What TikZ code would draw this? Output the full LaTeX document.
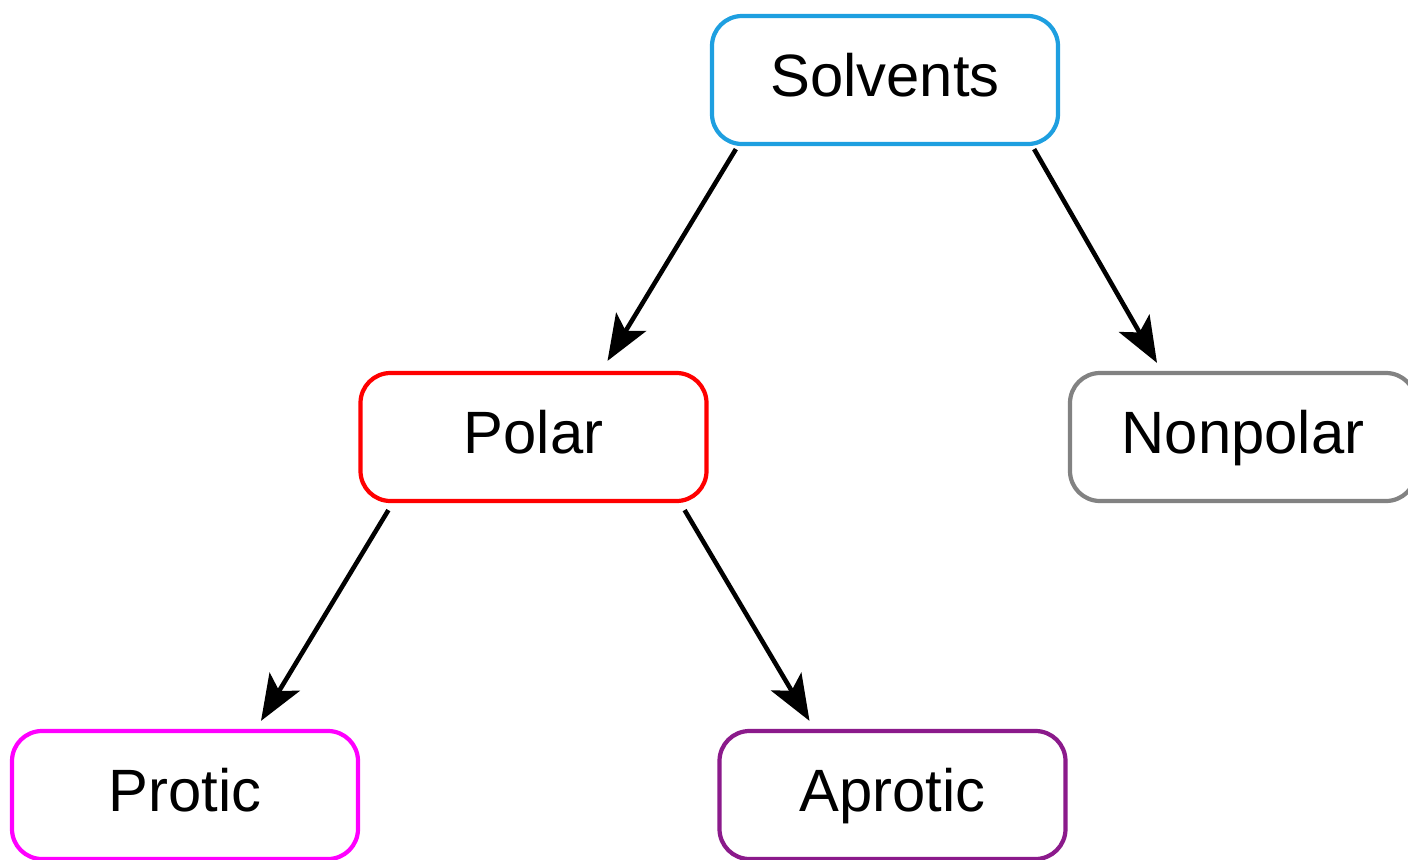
\documentclass[tikz,border=0pt]{standalone}
\usepackage{fontspec}
\setmainfont{Liberation Sans}
\usetikzlibrary{arrows.meta}
\definecolor{solvblue}{HTML}{1E9FE0}
\definecolor{polred}{HTML}{FF0000}
\definecolor{nongray}{HTML}{828282}
\definecolor{promag}{HTML}{FF00FF}
\definecolor{apropurple}{HTML}{8B1A8B}

\begin{document}
\begin{tikzpicture}[
    box/.style={draw=#1, fill=white, line width=1.2pt, rounded corners=0.3cm,
        minimum width=3.46cm, minimum height=1.28cm, inner sep=0pt,
        text height=13pt, text depth=3.4pt,
        font=\fontsize{17}{20}\selectfont},
    arr/.style={black, line width=1.3pt,
        -{Stealth[length=13pt, width=10pt, inset=3pt]}},
]
\useasboundingbox (0,0) rectangle (14.08,8.59);

% Boxes
\node[box=solvblue] (solv) at (8.85,7.79) {Solvents};
\node[box=polred] (polar) at (5.335,4.22) {Polar};
\node[box=nongray] (nonpol) at (12.43,4.22) {Nonpolar};
\node[box=promag] (protic) at (1.85,0.64) {Protic};
\node[box=apropurple] (aprotic) at (8.925,0.64) {Aprotic};

% Arrows
\draw[arr] ([shift={(0.26,-0.03)}]solv.south west)
    -- ([shift={(0.74,0.10)}]polar.north);
\draw[arr] ([shift={(-0.26,-0.03)}]solv.south east)
    -- ([shift={(-0.86,0.08)}]nonpol.north);
\draw[arr] ([shift={(0.30,-0.07)}]polar.south west)
    -- ([shift={(0.76,0.08)}]protic.north);
\draw[arr] ([shift={(-0.24,-0.07)}]polar.south east)
    -- ([shift={(-0.83,0.08)}]aprotic.north);

\end{tikzpicture}
\end{document}
